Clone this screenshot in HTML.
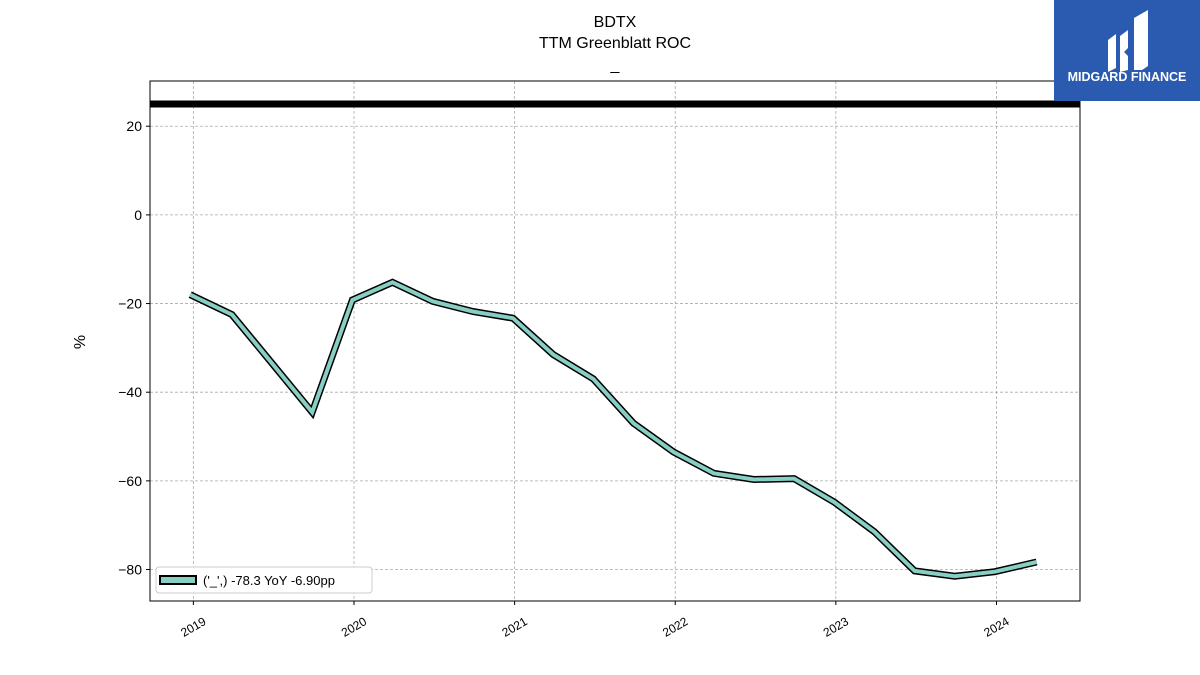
<!DOCTYPE html>
<html><head><meta charset="utf-8"><style>
body{margin:0;background:#fff;font-family:"Liberation Sans","DejaVu Sans",sans-serif}
#wrap{position:relative;width:1200px;height:675px;overflow:hidden}
</style></head><body>
<div id="wrap">
<svg id="chart" width="1200" height="675"></svg>
<div style="position:absolute;left:1054px;top:0;width:146px;height:101px;background:#2b5bb0">
<svg width="146" height="101"><path d="M54 40 L62 34 L62 68 L54 72 Z M66 36 L74 30 L74 48 L70 52 L74 56 L74 70 L66 72 Z M80 18 L94 10 L94 66 L88 70 L80 70 Z" fill="#fff"/>
<text x="73" y="81" text-anchor="middle" font-size="12.5" font-weight="bold" fill="#fff" font-family="Liberation Sans, sans-serif">MIDGARD FINANCE</text></svg></div>
</div>
<script>
const dates=[2018.98,2019.24,2019.49,2019.74,2019.99,2020.24,2020.49,2020.74,2020.99,2021.24,2021.49,2021.74,2021.99,2022.24,2022.49,2022.74,2022.99,2023.24,2023.49,2023.74,2023.99,2024.25];
const values=[-18,-22.5,-33.5,-44.5,-19.2,-15.2,-19.5,-21.8,-23.3,-31.5,-37,-47,-53.5,-58.3,-59.7,-59.5,-64.8,-71.5,-80.3,-81.5,-80.5,-78.3];
const refLine=[25];
const yTicks=[20,0,-20,-40,-60,-80];
const xTicks=[2019,2020,2021,2022,2023,2024];
const L=150,R=1080,T=81,B=601;
const ymin=-87.1,ymax=30.2,xmin=2018.73,xmax=2024.52;
const xs=v=>L+(v-xmin)/(xmax-xmin)*(R-L);
const ys=v=>T+(ymax-v)/(ymax-ymin)*(B-T);
const svg=document.getElementById('chart');const NS='http://www.w3.org/2000/svg';
function mk(t,a,p){const e=document.createElementNS(NS,t);for(const k in a)e.setAttribute(k,a[k]);(p||svg).appendChild(e);return e;}
let e;
e=mk('text',{x:615,y:27,'text-anchor':'middle','font-size':16});e.textContent='BDTX';


e=mk('text',{x:615,y:48,'text-anchor':'middle','font-size':16});e.textContent='TTM Greenblatt ROC';


e=mk('text',{x:615,y:70,'text-anchor':'middle','font-size':16});e.textContent='_';


yTicks.forEach(v=>{const y=ys(v);
e=mk('line',{x1:L,x2:R,y1:y,y2:y,stroke:'#aaa','stroke-dasharray':'3,2','stroke-width':0.8});


mk('line',{x1:L-4,x2:L,y1:y,y2:y,stroke:'#000'});
e=mk('text',{x:L-8,y:y+5,'text-anchor':'end','font-size':14});e.textContent=(v<0?'\u2212'+(-v):v);

});
xTicks.forEach(v=>{const x=xs(v);
e=mk('line',{x1:x,x2:x,y1:T,y2:B,stroke:'#aaa','stroke-dasharray':'3,2','stroke-width':0.8});


mk('line',{x1:x,x2:x,y1:B,y2:B+4,stroke:'#000'});
e=mk('text',{x:x,y:B+30,'text-anchor':'middle','font-size':12,transform:`rotate(-30 ${x} ${B+26})`});e.textContent=v;

});
e=mk('line',{x1:L,x2:R,y1:ys(refLine[0]),y2:ys(refLine[0]),stroke:'#000','stroke-width':7});


const d=dates.map((v,i)=>(i?'L':'M')+xs(v).toFixed(1)+' '+ys(values[i]).toFixed(1)).join(' ');
e=mk('path',{d:d,fill:'none',stroke:'#000','stroke-width':7,'stroke-linejoin':'miter'});


e=mk('path',{d:d,fill:'none',stroke:'#88cfc3','stroke-width':4});


e=mk('rect',{x:L,y:T,width:R-L,height:B-T,fill:'none',stroke:'#000','stroke-width':1});


e=mk('text',{x:85,y:342,'text-anchor':'middle','font-size':16,transform:'rotate(-90 85 342)'});e.textContent='%';


const g=mk('g',{});


mk('rect',{x:156,y:567,width:216,height:26,rx:3,fill:'#fff',stroke:'#ccc'},g);
mk('rect',{x:160,y:576,width:36,height:8,fill:'#88cfc3',stroke:'#000','stroke-width':2},g);
e=mk('text',{x:203,y:585,'font-size':13},g);e.textContent="('_',) -78.3 YoY -6.90pp";


</script>
</body></html>
